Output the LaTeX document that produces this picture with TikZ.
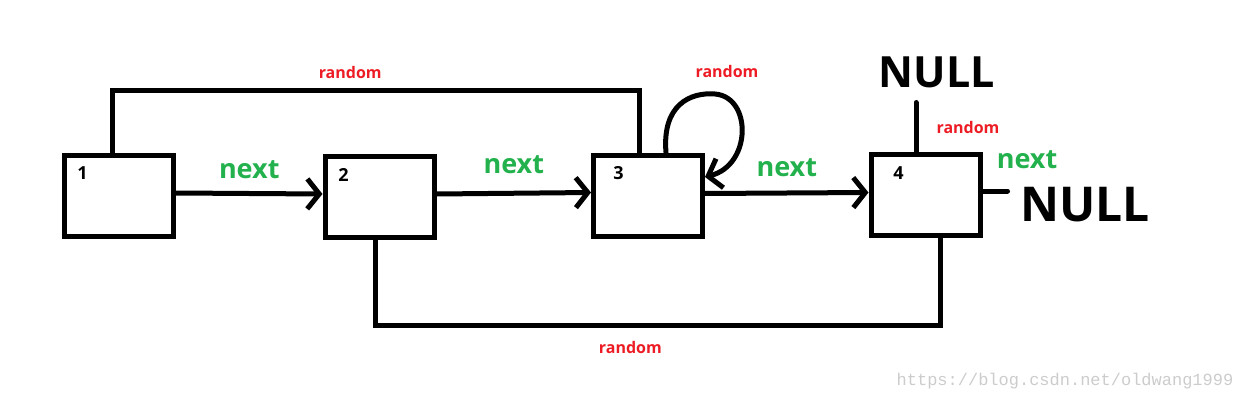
\documentclass[tikz,border=0pt]{standalone}
\usepackage{fontspec}
\setmainfont{Open Sans}
\newfontfamily\markfont{Liberation Mono}
\usetikzlibrary{arrows.meta,positioning,calc}
\definecolor{rndred}{RGB}{237,28,36}
\definecolor{nxtgreen}{RGB}{34,177,76}
\tikzset{
  cell/.style={draw,line width=5pt,minimum width=109pt,minimum height=81pt,inner sep=0pt},
  link/.style={line width=5pt,line cap=round},
  num/.style={font=\fontsize{18}{18}\selectfont\bfseries,inner sep=0pt},
  nxt/.style={text=nxtgreen,font=\fontsize{27}{27}\selectfont\bfseries,inner sep=0pt},
  rnd/.style={text=rndred,font=\fontsize{16}{16}\selectfont\bfseries,inner sep=0pt},
  nullt/.style={font=\fontsize{#1}{#1}\selectfont\bfseries,inner sep=0pt},
  wmark/.style={text=black!20,font=\markfont\fontsize{17}{17}\selectfont,inner sep=0pt},
}
\begin{document}
\begin{tikzpicture}[x=1pt,y=1pt,>={Straight Barb[length=12pt,width=30pt]}]
      \useasboundingbox (0,0) rectangle (1239,-401);
      % the four cells
      \node[cell] (box1) at (119,-196) {};
      \node[cell] (box2) at (379.5,-197) {};
      \node[cell] (box3) at (648,-195.5) {};
      \node[cell] (box4) at (925.5,-194.5) {};
      \node[num] (n1) at ([xshift=20.5pt,yshift=-20.5pt]box1.north west) {1};
      \node[num] (n2) at ([xshift=21pt,yshift=-20.5pt]box2.north west) {2};
      \node[num] (n3) at ([xshift=27.5pt,yshift=-21pt]box3.north west) {3};
      \node[num] (n4) at ([xshift=30pt,yshift=-22pt]box4.north west) {4};
      % next
      \draw[link,->] ([yshift=3pt]box1.east) -- ([yshift=3pt]box2.west) node[nxt,midway,above=12pt]{next};
      \draw[link,->] ([yshift=3pt]box2.east) -- ([yshift=3pt]box3.west) node[nxt,midway,above=17pt]{next};
      \draw[link,->] ([yshift=2pt]box3.east) -- ([yshift=2pt]box4.west) node[nxt,midway,above=14pt]{next};
      \coordinate (nextend) at ([xshift=25pt,yshift=3.5pt]box4.east);
      \draw[link] ([yshift=3.5pt]box4.east) -- (nextend);
      \node[nxt] (nxt4) at (1027,-160) {next};
      \node[nullt=48] (null2) at (1085,-205) {NULL};
      % random
      \draw[link] ([xshift=-7pt]box1.north) -- ++(0,62.5) -| ([xshift=-9pt]box3.north) node[rnd,pos=0.226,above=9pt]{random};
      \draw[link] ([xshift=-4.5pt]box2.south) -- ++(0,-85.5) -| ([xshift=14.5pt]box4.south) node[rnd,pos=0.226,below=13pt]{random};
      \draw[link,->] ([xshift=18pt]box3.north) .. controls (662,-105) and (690,-92) .. (715,-94)
            .. controls (752,-97) and (752,-165) .. ([yshift=18.5pt]box3.east);
      \node[rnd] (rnd3) at (727,-72) {random};
      \coordinate (nullend) at ([xshift=-9.5pt,yshift=49pt]box4.north);
      \draw[link] ([xshift=-9.5pt]box4.north) -- (nullend);
      \node[rnd] (rnd4) at (968,-127) {random};
      \node[nullt=43] (null1) at (937,-72) {NULL};
      \node[wmark] (wm) at (1065,-381) {https://blog.csdn.net/oldwang1999};
\end{tikzpicture}
\end{document}
